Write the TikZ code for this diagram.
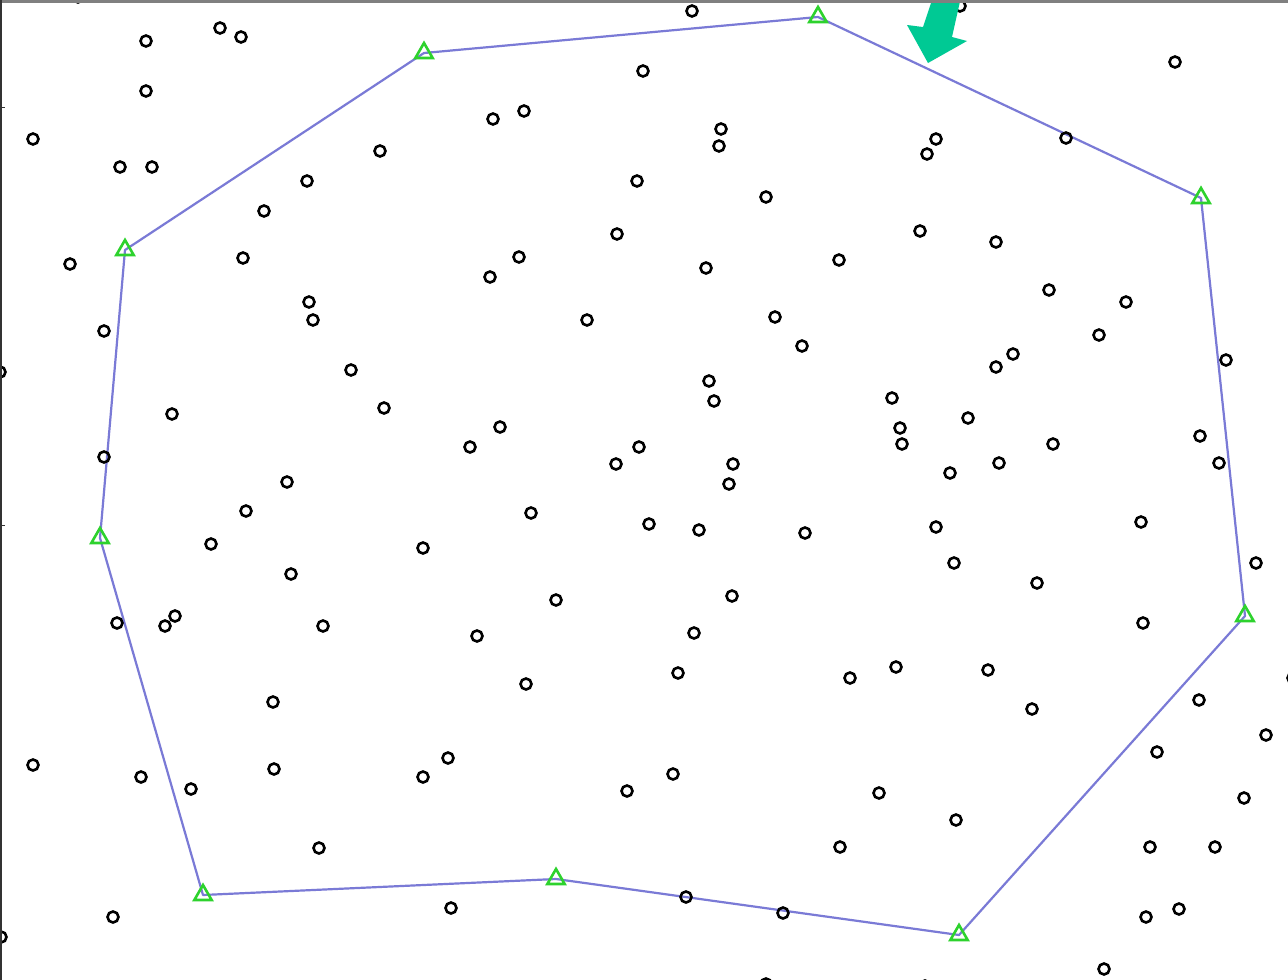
\documentclass[tikz,border=0pt]{standalone}
\usetikzlibrary{shapes.geometric}
\definecolor{hullc}{RGB}{122,122,214}
\definecolor{markg}{RGB}{45,210,45}
\definecolor{arrowc}{RGB}{0,201,148}
\begin{document}
\begin{tikzpicture}[x=1pt,y=-1pt,
  pt/.style={circle,draw=black,line width=2.6pt,inner sep=0pt,minimum size=11pt},
  hv/.style={regular polygon,regular polygon sides=3,draw=markg,line width=2.6pt,inner sep=0pt,minimum size=20pt},
  hull/.style={draw=hullc,line width=2.2pt,line join=round}]
\useasboundingbox (0,0) rectangle (1288,980);
\fill[white] (0,0) rectangle (1288,980);
\begin{scope}
\clip (0,0) rectangle (1288,980);
% hull vertices
\coordinate (h1) at (424,53);
\coordinate (h2) at (818,17);
\coordinate (h3) at (1201,198);
\coordinate (h4) at (1245,616);
\coordinate (h5) at (959,935);
\coordinate (h6) at (556,879);
\coordinate (h7) at (203,895);
\coordinate (h8) at (100,538);
\coordinate (h9) at (125,250);
\draw[hull] (h1) -- (h2) -- (h3) -- (h4) -- (h5) -- (h6) -- (h7) -- (h8) -- (h9) -- cycle;
% points
\foreach \x/\y [count=\i] in {
78/-3, 200/-6, 441/-6, 716/-6, 960/6,
146/41, 220/28, 241/37, 146/91, 33/139, 120/167, 152/167,
692/11, 643/71, 1175/62,
493/119, 524/111, 380/151, 721/129, 719/146, 936/139, 927/154, 1066/138,
307/181, 637/181, 264/211, 766/197,
70/264, 243/258, 519/257, 490/277, 617/234, 706/268, 839/260, 920/231, 996/242, 1049/290, 1126/302, 1099/335,
104/331, 309/302, 313/320, 587/320, 775/317, 802/346, 1013/354, 996/367, 1226/360,
0/372, 351/370, 384/408, 172/414, 709/381, 714/401, 892/398, 968/418, 900/428, 902/444,
470/447, 500/427, 639/447, 616/464, 733/464, 729/484, 1053/444, 999/463, 950/473, 1200/436, 1219/463,
104/457, 287/482, 246/511, 531/513, 649/524, 699/530, 805/533, 936/527, 1141/522,
211/544, 423/548, 954/563, 1256/563,
291/574, 556/600, 732/596, 1037/583,
117/623, 175/616, 165/626, 323/626, 477/636, 694/633, 1143/623,
678/673, 850/678, 896/667, 988/670, 526/684, 1293/678,
273/702, 1032/709, 1199/700,
33/765, 141/777, 191/789, 274/769, 423/777, 448/758, 627/791, 673/774, 879/793, 1157/752, 1266/735,
956/820, 1244/798,
319/848, 840/847, 1150/847, 1215/847,
451/908, 686/897, 783/913, 113/917, 1146/917, 1179/909,
1/937, 766/984, 925/986, 1104/969}
  \node[pt] (p\i) at (\x,\y) {};
% hull markers
\foreach \k in {1,...,9}
  \node[hv] (t\k) at (h\k) {};
% arrow
\fill[arrowc] (933,-3) -- (923,27) -- (907,25) -- (928,63) -- (967,41) -- (952,37) -- (961,-3) -- cycle;
\end{scope}
% frame
\fill[gray] (0,0) rectangle (1288,2.5);
\fill[black!80] (0,0) rectangle (2,980);
\draw[black!80,line width=1pt] (0,107) -- (5,107);
\draw[black!80,line width=1pt] (0,525) -- (5,525);
\end{tikzpicture}
\end{document}
